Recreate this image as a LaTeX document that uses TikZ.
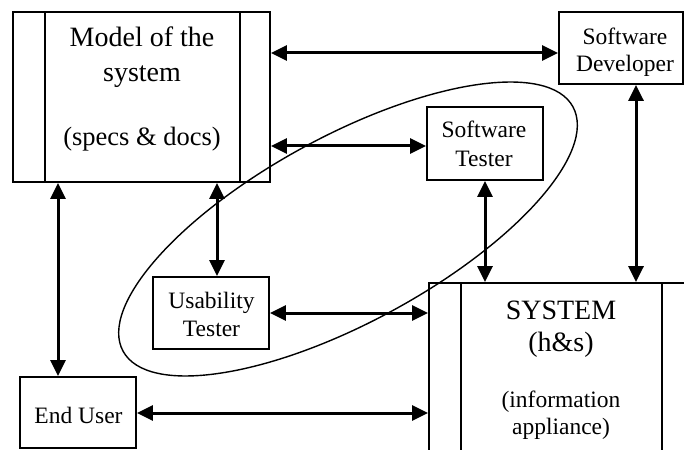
\documentclass[tikz,border=0pt]{standalone}
\usepackage{fontspec}
\setmainfont{Liberation Serif}
\usetikzlibrary{arrows.meta}
\begin{document}
\begin{tikzpicture}[x=1pt,y=-1pt,
  box/.style={draw, line width=1.8pt, inner sep=0pt},
  divider/.style={line width=1.8pt},
  link/.style={line width=3pt, {Triangle[length=16pt,width=15pt]}-{Triangle[length=16pt,width=15pt]}},
  big/.style={inner sep=0pt, anchor=base, font=\fontsize{28}{32}\selectfont},
  mid/.style={inner sep=0pt, anchor=base, font=\fontsize{26.5}{30}\selectfont},
  small/.style={inner sep=0pt, anchor=base, font=\fontsize{23.5}{27}\selectfont},
  loop/.style={line width=1.4pt}]
\useasboundingbox (0,0) rectangle (684,449);
\clip (0,0) rectangle (684,449);

% boxes
\node[box, minimum width=257pt, minimum height=170pt] (model) at (141.5,97) {};
\node[box, minimum width=124pt, minimum height=72pt] (dev) at (621,48) {};
\node[box, minimum width=116pt, minimum height=73pt] (swt) at (485,143.5) {};
\node[box, minimum width=116pt, minimum height=72pt] (usab) at (211,313) {};
\node[box, minimum width=116pt, minimum height=71pt] (user) at (78,412.5) {};
\node[box, minimum width=265pt, minimum height=234pt] (system) at (561.5,400) {};

% dividers
\draw[divider] (model.north -| 45,0) -- (model.south -| 45,0);
\draw[divider] (model.north -| 240,0) -- (model.south -| 240,0);
\draw[divider] (system.north -| 461,0) -- (system.south -| 461,0);
\draw[divider] (system.north -| 662,0) -- (system.south -| 662,0);

% texts
\node[big] (t1) at (142,47) {Model of the};
\node[big] (t2) at (142,82) {system};
\node[mid] (t3) at (142,146) {(specs \& docs)};
\node[small] (t4) at (625,45) {Software};
\node[small] (t5) at (625,72) {Developer};
\node[small] (t6) at (484,138) {Software};
\node[small] (t7) at (484,166) {Tester};
\node[small] (t8) at (211.5,308) {Usability};
\node[small] (t9) at (211.5,336) {Tester};
\node[small] (t10) at (78.5,423) {End User};
\node[big] (t11) at (561,319) {SYSTEM};
\node[big] (t12) at (561,351) {(h\&s)};
\node[small] (t13) at (561,407) {(information};
\node[small] (t14) at (561,434) {appliance)};

% connectors
\draw[link] (model.east |- 0,53) -- (dev.west |- 0,53);
\draw[link] (model.east |- 0,146) -- (swt.west |- 0,146);
\draw[link] (model.south -| 217,0) -- (usab.north -| 217,0);
\draw[link] (model.south -| 58,0) -- (user.north -| 58,0);
\draw[link] (dev.south -| 636,0) -- (system.north -| 636,0);
\draw[link] (swt.south) -- (swt.south |- system.north);
\draw[link] (usab.east) -- (usab.east -| system.west);
\draw[link] (user.east |- 0,413) -- (system.west |- 0,413);

% ellipse around testers
\draw[loop, shift={(348,229)}, rotate=28.5] (0,0) ellipse [x radius=256, y radius=93];
\end{tikzpicture}
\end{document}
